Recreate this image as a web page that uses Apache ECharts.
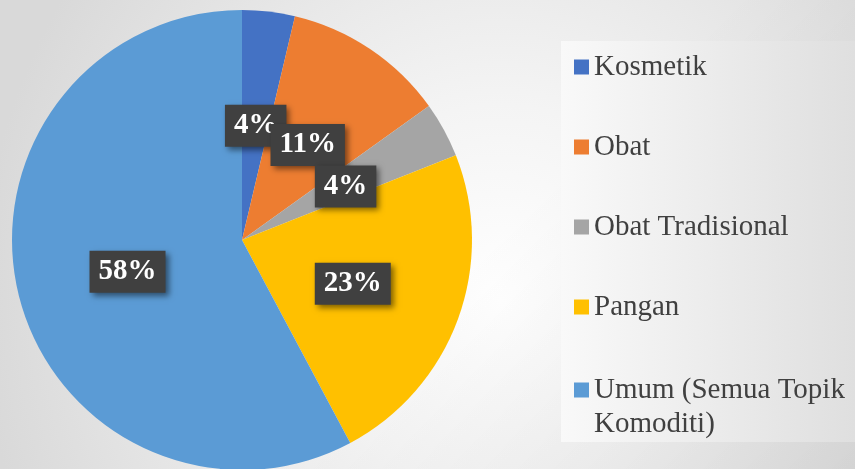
<!DOCTYPE html>
<html>
<head>
<meta charset="utf-8">
<script src="https://cdn.jsdelivr.net/npm/echarts@6/dist/echarts.min.js"></script>
<style>
  html, body { margin: 0; padding: 0; }
  #chart {
    width: 855px; height: 469px;
    background:
      linear-gradient(135deg, rgba(0,0,0,0) 55%, rgba(0,0,0,0.07) 100%),
      radial-gradient(ellipse 520px 560px at 500px 300px, #ffffff 0%, #f4f4f4 35%, #d9d9d9 100%);
  }
</style>
</head>
<body>
<div id="chart"></div>
<script>
const categories = ['Kosmetik', 'Obat', 'Obat Tradisional', 'Pangan', 'Umum (Semua Topik Komoditi)'];
const shares = [3.7, 11.4, 3.9, 23.2, 57.8];
const colors = ['#4472c4', '#ed7d31', '#a5a5a5', '#ffc000', '#5b9bd5'];

const serif = '"Liberation Serif", "Times New Roman", serif';

const chart = echarts.init(document.getElementById('chart'));

const legendText = {
    fontFamily: serif,
    fontSize: 29,
    lineHeight: 34,
    color: '#404040'
};

const option = {
    animation: false,
    graphic: [
        {
            type: 'rect',
            z: -10,
            silent: true,
            shape: { x: 561, y: 41, width: 294, height: 401 },
            style: {
                fill: new echarts.graphic.LinearGradient(0, 0, 1, 0, [
                    { offset: 0, color: '#f9f9f9' },
                    { offset: 1, color: '#dfdfdf' }
                ])
            }
        }
    ],
    legend: [
        {
            orient: 'vertical',
            left: 569,
            top: 45,
            itemWidth: 15,
            itemHeight: 15,
            itemGap: 46,
            icon: 'rect',
            selectedMode: false,
            data: categories.slice(0, 4),
            textStyle: legendText
        },
        {
            // leading blank line keeps the icon level with the first text line
            orient: 'vertical',
            left: 569,
            top: 334,
            itemWidth: 15,
            itemHeight: 15,
            icon: 'rect',
            selectedMode: false,
            data: categories.slice(4),
            formatter: () => '\nUmum (Semua Topik\nKomoditi)',
            textStyle: legendText
        }
    ],
    series: [
        {
            type: 'pie',
            center: [242, 240],
            radius: 230,
            startAngle: 90,
            clockwise: true,
            percentPrecision: 0,
            avoidLabelOverlap: false,
            labelLayout: { hideOverlap: false },
            color: colors,
            emphasis: { disabled: true },
            label: {
                show: true,
                position: 'inside',
                formatter: '{d}%',
                offset: [0, 3],
                fontFamily: serif,
                fontSize: 29,
                fontWeight: 'bold',
                lineHeight: 30,
                color: '#ffffff',
                backgroundColor: '#404040',
                padding: [6, 9],
                shadowColor: 'rgba(0,0,0,0.5)',
                shadowBlur: 6,
                shadowOffsetX: 3,
                shadowOffsetY: 3
            },
            labelLine: { show: false },
            data: categories.map((name, i) => ({ name: name, value: shares[i] }))
        }
    ]
};

chart.setOption(option);
window.addEventListener('resize', chart.resize);
</script>
</body>
</html>
